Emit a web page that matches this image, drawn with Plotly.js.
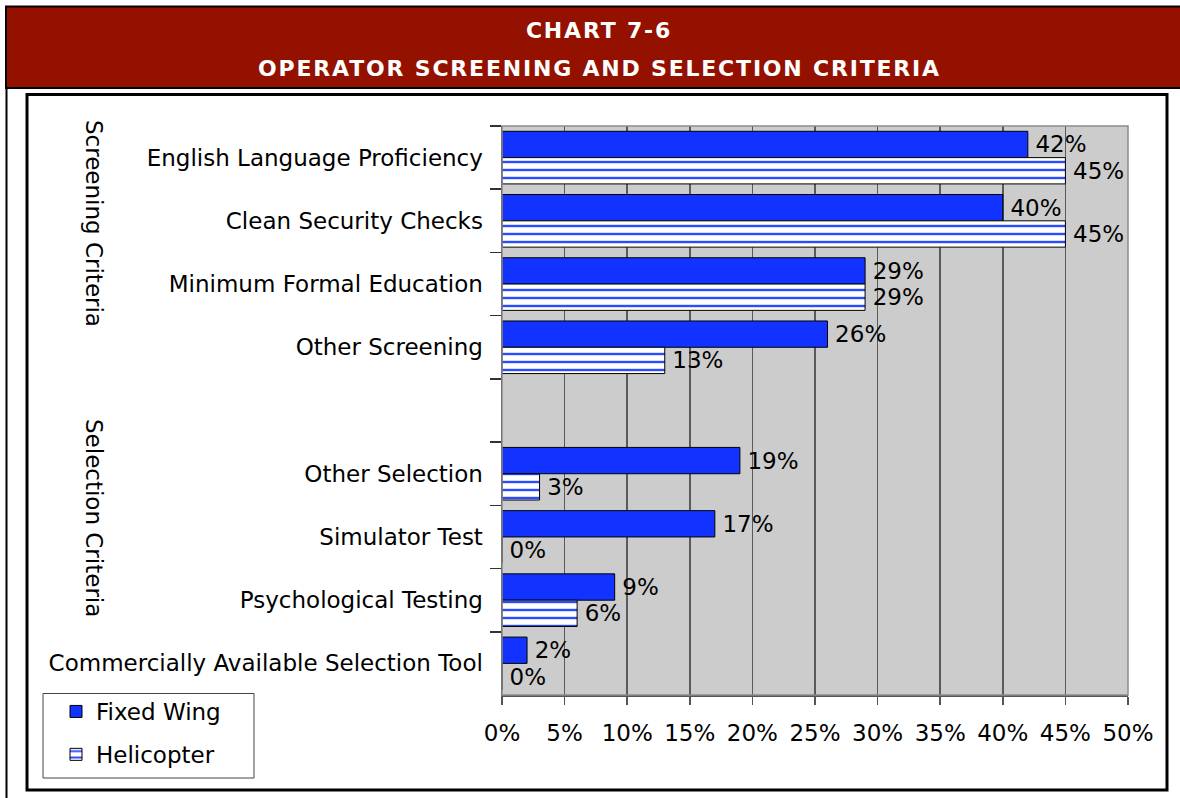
<!DOCTYPE html>
<html>
<head>
<meta charset="utf-8">
<script src="https://cdn.plot.ly/plotly-3.0.1.min.js"></script>
<style>
  html, body { margin: 0; padding: 0; background: #ffffff; }
  #chart { width: 1180px; height: 798px; }
  .annotation[data-index="0"] text, .annotation[data-index="1"] text { letter-spacing: 1.8px; }
</style>
</head>
<body>
<div id="chart"></div>
<script>
// ---- data ----
const screeningCategories = ["English Language Proficiency", "Clean Security Checks", "Minimum Formal Education", "Other Screening"];
const selectionCategories = ["Other Selection", "Simulator Test", "Psychological Testing", "Commercially Available Selection Tool"];
const fixedWingScreening = [42, 40, 29, 26];
const fixedWingSelection = [19, 17, 9, 2];
const helicopterScreening = [45, 45, 29, 13];
const helicopterSelection = [3, 0, 6, 0];
const seriesNames = ["Fixed Wing", "Helicopter"];
const groupTitles = ["Screening Criteria", "Selection Criteria"];
const chartTitle = ["CHART 7-6", "OPERATOR SCREENING AND SELECTION CRITERIA"];
const xTicks = [0, 5, 10, 15, 20, 25, 30, 35, 40, 45, 50];

// ---- layout helpers ----
const W = 1180, H = 798;
const M = { l: 502, r: 52, t: 126, b: 103 };
const PW = W - M.l - M.r, PH = H - M.t - M.b;
const pxX = px => (px - M.l) / PW;
const pxY = py => (H - M.b - py) / PH;

const SPACER = " ";
const categoryOrder = screeningCategories.concat([SPACER], selectionCategories);
const allCats = screeningCategories.concat(selectionCategories);
const fixedWing = fixedWingScreening.concat(fixedWingSelection);
const helicopter = helicopterScreening.concat(helicopterSelection);

const FONT = "DejaVu Sans";
const BLUE = "#1233ff";

const traces = [
  {
    type: "bar", orientation: "h", name: seriesNames[0],
    y: allCats, x: fixedWing,
    text: fixedWing.map(v => v + "%"), texttemplate: "\u2009%{text}",
    textposition: "outside", textangle: 0, constraintext: "none", cliponaxis: false,
    textfont: { family: FONT, size: 23, color: "#000" },
    marker: { color: BLUE, line: { color: "#000", width: 1 } },
    legendgroup: "a", hoverinfo: "skip"
  },
  {
    type: "bar", orientation: "h", name: seriesNames[1],
    y: allCats, x: helicopter,
    text: helicopter.map(v => v + "%"), texttemplate: "\u2009%{text}",
    textposition: "outside", textangle: 0, constraintext: "none", cliponaxis: false,
    textfont: { family: FONT, size: 23, color: "#000" },
    marker: {
      color: "#ffffff",
      line: { color: "#000", width: 1 },
      pattern: { shape: "-", fgcolor: "#2a4cff", bgcolor: "#ffffff", size: 8, solidity: 0.3, fillmode: "replace" }
    },
    legendgroup: "b", hoverinfo: "skip"
  }
];

const layout = {
  width: W, height: H,
  margin: M,
  paper_bgcolor: "#ffffff",
  plot_bgcolor: "#cccccc",
  font: { family: FONT, size: 23, color: "#000" },
  barmode: "group",
  bargap: 0.168,
  bargroupgap: 0,
  showlegend: true,
  legend: {
    x: pxX(43), y: pxY(690), xanchor: "left", yanchor: "top",
    bgcolor: "rgba(0,0,0,0)", borderwidth: 0,
    font: { family: FONT, size: 23, color: "#000" },
    traceorder: "grouped", tracegroupgap: 10, indentation: 13
  },
  xaxis: {
    range: [0, 50], tickvals: xTicks, ticktext: xTicks.map(v => v + "%"),
    showgrid: true, gridcolor: "#5a5a5a", gridwidth: 1.5,
    zeroline: false, showline: true, linecolor: "#555", linewidth: 1.5,
    ticks: "outside", ticklen: 8, tickcolor: "#555", tickwidth: 1.5,
    tickfont: { family: FONT, size: 23, color: "#000" },
    ticklabelstandoff: 9, fixedrange: true
  },
  yaxis: {
    type: "category", categoryorder: "array", categoryarray: categoryOrder,
    range: [categoryOrder.length - 0.5, -0.5],
    showgrid: false, zeroline: false, showline: true, linecolor: "#333", linewidth: 1.5,
    ticks: "outside", ticklen: 11, tickcolor: "#333", tickwidth: 1.5, tickson: "boundaries",
    tickfont: { family: FONT, size: 23, color: "#000" },
    ticklabelstandoff: 13, fixedrange: true
  },
  shapes: [
    // header band
    { type: "rect", xref: "paper", yref: "paper", x0: pxX(6), x1: pxX(1195), y0: pxY(88), y1: pxY(6.5),
      fillcolor: "#941100", line: { color: "#000", width: 2 }, layer: "below" },
    // outer frame left edge
    { type: "line", xref: "paper", yref: "paper", x0: pxX(6.5), x1: pxX(6.5), y0: pxY(88), y1: pxY(800),
      line: { color: "#000", width: 2 } },
    // inner chart box
    { type: "rect", xref: "paper", yref: "paper", x0: pxX(27), x1: pxX(1167), y0: pxY(790), y1: pxY(94.5),
      line: { color: "#000", width: 3 }, layer: "below" },
    // plot area border
    { type: "rect", xref: "paper", yref: "paper", x0: 0, x1: 1, y0: 0, y1: 1,
      line: { color: "#8c8c8c", width: 1.5 }, layer: "above" },
    // legend frame
    { type: "rect", xref: "paper", yref: "paper", x0: pxX(43), x1: pxX(254), y0: pxY(778), y1: pxY(693.5),
      fillcolor: "#ffffff", line: { color: "#444", width: 1 }, layer: "above" }
  ],
  annotations: [
    { text: "<b>" + chartTitle[0] + "</b>", xref: "paper", yref: "paper", x: pxX(599), y: pxY(30),
      xanchor: "center", yanchor: "middle", showarrow: false,
      font: { family: FONT, size: 22, color: "#ffffff" } },
    { text: "<b>" + chartTitle[1] + "</b>", xref: "paper", yref: "paper", x: pxX(599), y: pxY(68),
      xanchor: "center", yanchor: "middle", showarrow: false,
      font: { family: FONT, size: 22, color: "#ffffff" } },
    { text: groupTitles[0], xref: "paper", yref: "paper", x: pxX(94), y: pxY(223),
      xanchor: "center", yanchor: "middle", showarrow: false, textangle: 90,
      font: { family: FONT, size: 23, color: "#000" } },
    { text: groupTitles[1], xref: "paper", yref: "paper", x: pxX(94), y: pxY(518),
      xanchor: "center", yanchor: "middle", showarrow: false, textangle: 90,
      font: { family: FONT, size: 23, color: "#000" } }
  ]
};

Plotly.newPlot("chart", traces, layout, { displayModeBar: false, staticPlot: true });
</script>
</body>
</html>
